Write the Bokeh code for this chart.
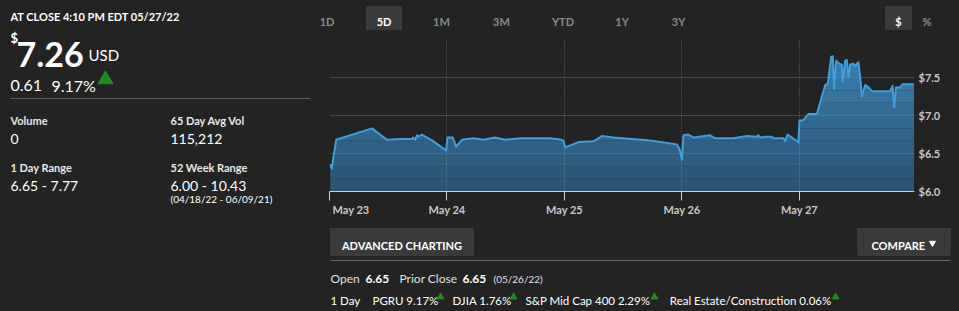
import numpy as np
from bokeh.plotting import figure
from bokeh.layouts import row, column
from bokeh.models import Range1d, FixedTicker, NumeralTickFormatter
from bokeh.core.properties import value
from bokeh.embed import file_html
from bokeh.resources import INLINE

# ---------------- data ----------------
day_labels = ["May 23", "May 24", "May 25", "May 26", "May 27"]
day_ticks = [0, 1, 2, 3, 4]
price_ticks = [6.0, 6.5, 7.0, 7.5]
grid_levels = [6.5, 7.0, 7.5, 8.0]

# session time in days since May 23 open
t = [0.006, 0.020, 0.028, 0.057, 0.361, 0.489, 0.616, 0.701, 0.710, 0.729, 0.744, 0.758, 0.786, 0.885, 0.993,
     1.004, 1.050, 1.078, 1.127, 1.226, 1.311, 1.410, 1.495, 1.623, 1.878, 1.978, 1.991,
     2.006, 2.119, 2.247, 2.318, 2.417, 2.729, 2.957, 2.979,
     3.000, 3.013, 3.055, 3.098, 3.240, 3.283, 3.438, 3.552, 3.637, 3.651, 3.666, 3.708, 3.765, 3.779, 3.864,
     3.878, 3.898, 3.991,
     4.000, 4.034, 4.077, 4.148, 4.219, 4.241, 4.270, 4.284, 4.295, 4.312, 4.340, 4.360, 4.366, 4.389, 4.403,
     4.417, 4.431, 4.460, 4.474, 4.489, 4.502, 4.517, 4.531, 4.545, 4.560, 4.587, 4.617, 4.772, 4.792, 4.806,
     4.821, 4.857, 4.877, 4.976]
price = [6.36, 6.30, 6.40, 6.68, 6.83, 6.68, 6.69, 6.69, 6.71, 6.68, 6.74, 6.72, 6.75, 6.66, 6.54,
         6.71, 6.71, 6.59, 6.68, 6.70, 6.68, 6.71, 6.68, 6.70, 6.70, 6.68, 6.67,
         6.58, 6.65, 6.66, 6.73, 6.71, 6.67, 6.62, 6.56,
         6.42, 6.74, 6.75, 6.71, 6.74, 6.70, 6.70, 6.73, 6.72, 6.74, 6.71, 6.72, 6.72, 6.70, 6.70,
         6.66, 6.75, 6.65,
         6.93, 6.94, 7.02, 7.02, 7.40, 7.42, 7.77, 7.78, 7.35, 7.72, 7.68, 7.67, 7.44, 7.72, 7.73,
         7.50, 7.67, 7.68, 7.65, 7.68, 7.70, 7.50, 7.25, 7.33, 7.40, 7.37, 7.32, 7.32, 7.39, 7.11,
         7.37, 7.37, 7.41, 7.41]

tabs = ["1D", "5D", "1M", "3M", "YTD", "1Y", "3Y"]
active_tab = "5D"

# ---------------- styling ----------------
BG = "#232323"
BOX = "#3a3a3a"
FONT = "Lato"
GREEN = "#1e8c1e"
BGSTYLE = {"background-color": BG}


def panel(w, h, x0, y0):
    p = figure(width=w, height=h, x_range=Range1d(x0, x0 + w), y_range=Range1d(y0 + h, y0),
               output_backend="svg", toolbar_location=None, min_border=0,
               background_fill_color=BG, border_fill_color=BG, outline_line_color=None,
               x_axis_location=None, y_axis_location=None, frame_align=False, styles=BGSTYLE)
    p.xgrid.visible = False
    p.ygrid.visible = False
    return p


def txt(p, x, y, s, size, color="#ffffff", bold=False, align="left"):
    p.text(x=[x], y=[y], text=[s], text_font=value(FONT), text_font_size=f"{size}px",
           text_font_style="bold" if bold else "normal", text_color=color,
           text_align=align, text_baseline="alphabetic")


# ---------------- left panel ----------------
L = panel(316, 311, 0, 0)
txt(L, 10, 16, "AT CLOSE 4:10 PM EDT 05/27/22", 11, bold=True)
txt(L, 10, 37, "$", 13, bold=True)
txt(L, 16, 54, "7.26", 34, bold=True)
txt(L, 88, 54, "USD", 15)
txt(L, 10, 85, "0.61", 16)
txt(L, 51, 85, "9.17%", 16)
L.scatter(x=[105], y=[79], marker="triangle", size=15, color=GREEN)
L.segment(x0=[10], y0=[98], x1=[310], y1=[98], line_color="#5a5a5a", line_width=1)
LBL = "#e8e8e8"
txt(L, 10, 120, "Volume", 11, LBL, bold=True)
txt(L, 170, 120, "65 Day Avg Vol", 11, LBL, bold=True)
txt(L, 10, 138, "0", 14)
txt(L, 170, 138, "115,212", 14)
txt(L, 10, 167, "1 Day Range", 11, LBL, bold=True)
txt(L, 170, 167, "52 Week Range", 11, LBL, bold=True)
txt(L, 10, 185, "6.65 - 7.77", 14)
txt(L, 170, 185, "6.00 - 10.43", 14)
txt(L, 170, 198, "(04/18/22 - 06/09/21)", 10)

# ---------------- top tab bar ----------------
T = panel(643, 36, 316, 0)
T.quad(left=[366, 885], right=[401, 911], top=[6, 6], bottom=[29, 29], color=BOX)
tab_x = [326.5, 383.5, 441, 501, 562.5, 621.5, 678]
for name, x in zip(tabs, tab_x):
    txt(T, x, 21, name, 11, "#ffffff" if name == active_tab else "#8a8a8a", bold=True, align="center")
txt(T, 898, 21, "$", 11, "#ffffff", bold=True, align="center")
txt(T, 926.5, 21, "%", 11, "#8a8a8a", bold=True, align="center")

# ---------------- chart ----------------
C = figure(width=643, height=186, x_range=Range1d(0, 4.979), y_range=Range1d(6.0, 8.0),
           y_axis_location="right", output_backend="svg", toolbar_location=None,
           min_border_left=13, min_border_right=45, min_border_top=3, min_border_bottom=31,
           background_fill_color=BG, border_fill_color=BG, outline_line_color=None,
           frame_align=False, styles=BGSTYLE)

pr = np.array(price)
edges = np.linspace(6.0, 8.0, 13)
c0 = np.array([0x2a, 0x53, 0x71])
c1 = np.array([0x3b, 0x84, 0xb8])
for k in range(len(edges) - 1):
    f = (k + 0.5) / (len(edges) - 1)
    rgb = (c0 + (c1 - c0) * f).round().astype(int)
    col = "#%02x%02x%02x" % tuple(rgb)
    C.varea(x=t, y1=np.minimum(pr, edges[k]), y2=np.minimum(pr, edges[k + 1]),
            fill_color=col, level="image")
C.line(t, price, line_color="#3d9fdc", line_width=2, line_join="round")

C.xgrid.ticker = FixedTicker(ticks=day_ticks)
C.xgrid.grid_line_color = "#ffffff"
C.xgrid.grid_line_alpha = 0.3
C.xgrid.grid_line_dash = "1 2"
C.ygrid.ticker = FixedTicker(ticks=grid_levels)
C.ygrid.grid_line_color = "#ffffff"
C.ygrid.grid_line_alpha = 0.16

AX = "#c9d0d8"
xa = C.xaxis[0]
xa.ticker = FixedTicker(ticks=day_ticks)
# first label is left-aligned at the plot edge: pad it with no-break spaces
xa.major_label_overrides = {d: (lab if d != 0 else "\u00a0" * 6 + lab)
                            for d, lab in zip(day_ticks, day_labels)}
xa.axis_line_color = AX
xa.major_tick_line_color = AX
xa.major_tick_out = 9
xa.major_tick_in = 0
xa.minor_tick_line_color = None
xa.major_label_standoff = 2
xa.major_label_text_font = FONT
xa.major_label_text_font_size = "11px"
xa.major_label_text_font_style = "bold"
xa.major_label_text_color = "#c8c8c8"

ya = C.yaxis[0]
ya.ticker = FixedTicker(ticks=price_ticks)
ya.formatter = NumeralTickFormatter(format="$0.0")
ya.axis_line_color = None
ya.major_tick_line_color = None
ya.minor_tick_line_color = None
ya.major_tick_out = 0
ya.major_tick_in = 0
ya.major_label_standoff = 4
ya.major_label_text_font = FONT
ya.major_label_text_font_size = "11px"
ya.major_label_text_font_style = "bold"
ya.major_label_text_color = "#c8c8c8"

# ---------------- bottom panel ----------------
B = panel(643, 89, 316, 222)
B.quad(left=[330, 857], right=[473, 950], top=[228, 228], bottom=[255, 255], color=BOX)
txt(B, 401.5, 245, "ADVANCED CHARTING", 11, bold=True, align="center")
txt(B, 871, 245, "COMPARE", 11, bold=True)
B.scatter(x=[932], y=[242.5], marker="inverted_triangle", size=6, color="#ffffff")
B.segment(x0=[330], y0=[260], x1=[950], y1=[260], line_color="#6a6a6a", line_width=1)

R1 = 278
txt(B, 330, R1, "Open", 12, "#e0e0e0")
txt(B, 365, R1, "6.65", 12, bold=True)
txt(B, 399, R1, "Prior Close", 12, "#e0e0e0")
txt(B, 462, R1, "6.65", 12, bold=True)
txt(B, 493, R1, "(05/26/22)", 10, "#e0e0e0")

R2 = 299.5
txt(B, 330, R2, "1 Day", 11.5)
items = [("PGRU 9.17%", 372, 440), ("DJIA 1.76%", 452, 513),
         ("S&P Mid Cap 400 2.29%", 525, 654), ("Real Estate/Construction 0.06%", 669.3, 835)]
for s, x, tx in items:
    txt(B, x, R2, s, 11.5)
B.scatter(x=[it[2] for it in items], y=[296.5] * len(items), marker="triangle", size=7, color=GREEN)

layout = row(L, column(T, C, B, spacing=0, styles=BGSTYLE), spacing=0, styles=BGSTYLE)
open("out.html", "w").write(file_html(layout, INLINE))
